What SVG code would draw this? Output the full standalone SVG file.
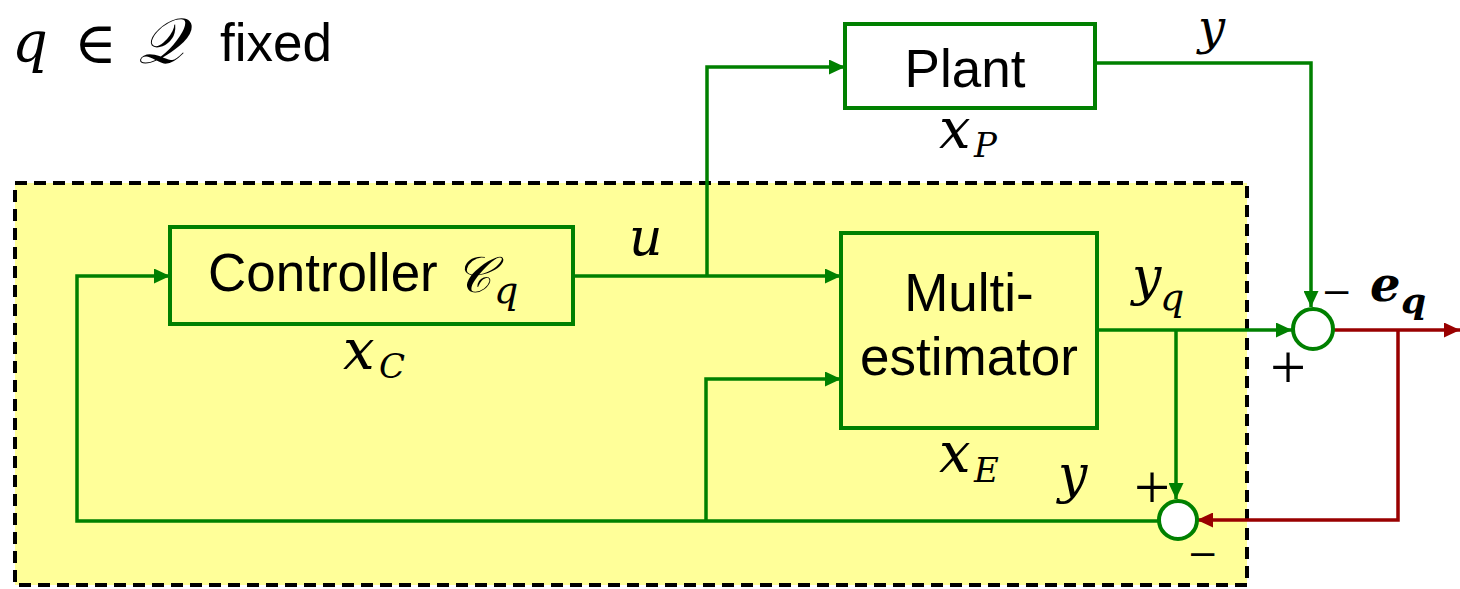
<svg xmlns="http://www.w3.org/2000/svg" width="1460" height="589" viewBox="0 0 1460 589">
<defs>
<style>
.box{fill:none;stroke:#008000;stroke-width:4}
.sum{fill:#fff;stroke:#008000;stroke-width:4}
.g{fill:none;stroke:#008000;stroke-width:3.5}
.r{fill:none;stroke:#990000;stroke-width:3.5}
.t{font-family:"Liberation Sans",Arial,sans-serif;font-size:53px;fill:#000}
.m{font-family:"DejaVu Serif","Liberation Serif",serif;font-style:italic;fill:#000}
.s{font-family:"DejaVu Serif","Liberation Serif",serif;fill:#000}
.pl{font-family:"Liberation Serif",serif;font-size:64px;fill:#000}
.mi{font-family:"Liberation Sans",sans-serif;font-size:42px;fill:#000}
</style>
<marker id="ag" markerWidth="17" markerHeight="15" refX="16" refY="7.5" orient="auto" markerUnits="userSpaceOnUse"><path d="M0,0 L16,7.5 L0,15 z" fill="#008000"/></marker>
<marker id="ar" markerWidth="17" markerHeight="15" refX="16" refY="7.5" orient="auto" markerUnits="userSpaceOnUse"><path d="M0,0 L16,7.5 L0,15 z" fill="#990000"/></marker>
</defs>
<rect width="1460" height="589" fill="#fff"/>
<g id="region">
<rect x="15" y="183" width="1232" height="402" fill="#FFFF99" stroke="#000" stroke-width="4" stroke-dasharray="12 7"/>
</g>
<g id="title">
<text class="m" x="12" y="61" font-size="56">q</text>
<text class="s" x="74" y="63" font-size="58">∈</text>
<text class="m" x="138" y="63" font-size="64">𝒬</text>
<text class="t" x="220" y="61" font-size="60">fixed</text>
</g>
<g id="connectors">
<path class="g" d="M573,276 H841" marker-end="url(#ag)"/>
<path class="g" d="M707,276 V67 H845" marker-end="url(#ag)"/>
<path class="g" d="M1095,63 H1311 V307" marker-end="url(#ag)"/>
<path class="g" d="M1097,330 H1292" marker-end="url(#ag)"/>
<path class="g" d="M1176,330 V499" marker-end="url(#ag)"/>
<path class="r" d="M1333,330 H1460" marker-end="url(#ar)"/>
<path class="r" d="M1398,330 V520 H1197" marker-end="url(#ar)"/>
<path class="g" d="M1158,521 H77 V276 H170" marker-end="url(#ag)"/>
<path class="g" d="M706,521 V379 H841" marker-end="url(#ag)"/>
</g>
<g id="plant">
<rect class="box" x="845" y="24" width="250" height="84"/>
<text class="t" x="965" y="87" text-anchor="middle">Plant</text>
<text class="m" x="939" y="148" font-size="56">x</text>
<text class="m" x="974" y="157" font-size="34">P</text>
</g>
<g id="controller">
<rect class="box" x="170" y="227" width="403" height="97"/>
<text class="t" x="208" y="291">Controller</text>
<text class="m" x="455" y="292" font-size="50">𝒞</text>
<text class="m" x="494" y="303" font-size="38">q</text>
<text class="m" x="343" y="369" font-size="56">x</text>
<text class="m" x="379" y="378" font-size="34">C</text>
</g>
<g id="multiestimator">
<rect class="box" x="841" y="233" width="256" height="195"/>
<text class="t" x="969" y="311" text-anchor="middle">Multi-</text>
<text class="t" x="969" y="375" text-anchor="middle">estimator</text>
<text class="m" x="939" y="472" font-size="56">x</text>
<text class="m" x="974" y="482" font-size="34">E</text>
</g>
<g id="sum1">
<circle class="sum" cx="1313" cy="329" r="20"/>
<text class="mi" x="1325" y="303">–</text>
<text class="pl" x="1288" y="389" text-anchor="middle">+</text>
</g>
<g id="sum2">
<circle class="sum" cx="1178" cy="520" r="19"/>
<text class="pl" x="1152" y="509" text-anchor="middle">+</text>
<text class="mi" x="1191" y="565">–</text>
</g>
<g id="labels">
<text class="m" x="629" y="255" font-size="52">u</text>
<text class="m" x="1198" y="44" font-size="48">y</text>
<text class="m" x="1132" y="294" font-size="52">y</text>
<text class="m" x="1160" y="310" font-size="38">q</text>
<text class="m" x="1370" y="301" font-size="48" font-weight="bold">e</text>
<text class="m" x="1401" y="313" font-size="36" font-weight="bold">q</text>
<text class="m" x="1058" y="492" font-size="52">y</text>
</g>
</svg>
